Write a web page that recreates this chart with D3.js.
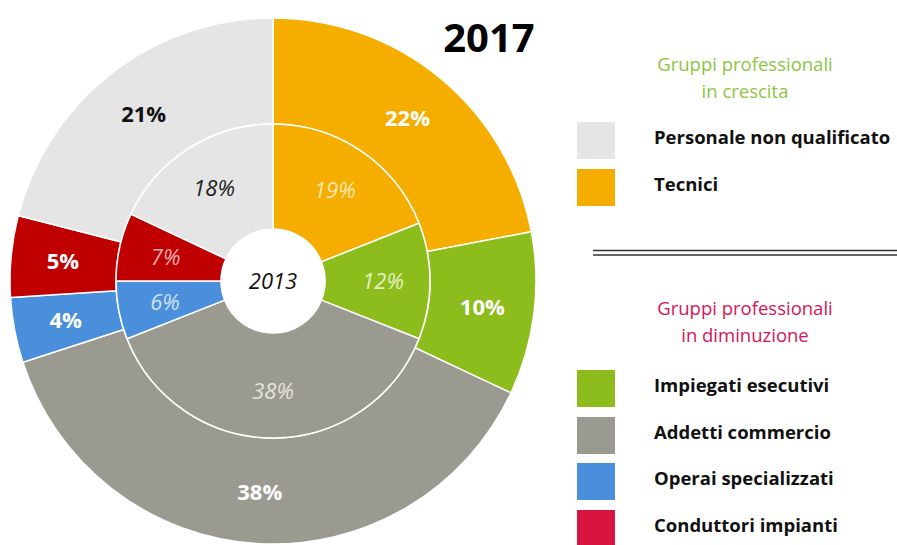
<!DOCTYPE html>
<html>
<head>
<meta charset="utf-8">
<script src="https://cdn.jsdelivr.net/npm/d3@7"></script>
<style>
  body { margin: 0; background: #fff; }
  svg { display: block; font-family: "Open Sans", Lato, sans-serif; }
</style>
</head>
<body>
<svg id="chart" width="897" height="545"></svg>
<script>
// categories in pie order (clockwise from 12 o'clock)
const categories = ["Tecnici", "Impiegati esecutivi", "Addetti commercio", "Operai specializzati", "Conduttori impianti", "Personale non qualificato"];
const values2017 = [22, 10, 38, 4, 5, 21];
const values2013 = [19, 12, 38, 6, 7, 18];
const sliceColors = ["#f5ad00", "#8dbd1c", "#9b9a91", "#4a8fdb", "#c00000", "#e5e5e5"];
const outerLabelColors = ["#fff", "#fff", "#fff", "#fff", "#fff", "#111"];
const innerLabelColors = ["#fde6b0", "#e3f0c2", "#e4e3de", "#cfe2f7", "#f0b0b0", "#222"];

const growingGroups = ["Personale non qualificato", "Tecnici"];
const shrinkingGroups = ["Impiegati esecutivi", "Addetti commercio", "Operai specializzati", "Conduttori impianti"];
const legendColors = {
  "Personale non qualificato": "#e5e5e5",
  "Tecnici": "#f5ad00",
  "Impiegati esecutivi": "#8dbd1c",
  "Addetti commercio": "#9b9a91",
  "Operai specializzati": "#4a8fdb",
  "Conduttori impianti": "#d81440"
};

const svg = d3.select("#chart");
const cx = 273, cy = 281;
const rOuter = 263, rMid = 157, rHole = 52;

const pie = d3.pie().sort(null).value(d => d.v);
const mk = vals => pie(vals.map((v, i) => ({ v, i })));

const outerArc = d3.arc().innerRadius(rMid).outerRadius(rOuter);
const innerArc = d3.arc().innerRadius(rHole).outerRadius(rMid);
const outerLbl = d3.arc().innerRadius(211).outerRadius(211);
const innerLbl = d3.arc().innerRadius(110).outerRadius(110);

const g = svg.append("g").attr("transform", `translate(${cx},${cy})`);

// outer ring (2017)
g.append("g").selectAll("path")
  .data(mk(values2017))
  .join("path")
  .attr("d", outerArc)
  .attr("fill", d => sliceColors[d.data.i])
  .attr("stroke", "#fff")
  .attr("stroke-width", 1.5);

// inner ring (2013)
g.append("g").selectAll("path")
  .data(mk(values2013))
  .join("path")
  .attr("d", innerArc)
  .attr("fill", d => sliceColors[d.data.i])
  .attr("stroke", "#fff")
  .attr("stroke-width", 1.5);

g.append("g").selectAll("text")
  .data(mk(values2017))
  .join("text")
  .attr("transform", d => `translate(${outerLbl.centroid(d)})`)
  .attr("text-anchor", "middle")
  .attr("dy", "0.36em")
  .attr("font-size", 22)
  .attr("font-weight", "bold")
  .attr("fill", d => outerLabelColors[d.data.i])
  .text(d => d.data.v + "%");

g.append("g").selectAll("text")
  .data(mk(values2013))
  .join("text")
  .attr("transform", d => `translate(${innerLbl.centroid(d)})`)
  .attr("text-anchor", "middle")
  .attr("dy", "0.36em")
  .attr("font-size", 22)
  .attr("font-style", "italic")
  .attr("fill", d => innerLabelColors[d.data.i])
  .text(d => d.data.v + "%");

g.append("text")
  .attr("text-anchor", "middle")
  .attr("dy", "0.36em")
  .attr("font-size", 22)
  .attr("font-style", "italic")
  .attr("fill", "#111")
  .text("2013");

svg.append("text")
  .attr("x", 489).attr("y", 52)
  .attr("text-anchor", "middle")
  .attr("font-size", 40)
  .attr("font-weight", "bold")
  .attr("fill", "#000")
  .text("2017");

// legend
function title(lines, y0, color) {
  svg.append("text")
    .attr("text-anchor", "middle")
    .attr("font-size", 18.5)
    .attr("fill", color)
    .selectAll("tspan")
    .data(lines)
    .join("tspan")
    .attr("x", 745)
    .attr("y", (d, i) => y0 + i * 27)
    .text(d => d);
}
function items(list, ys) {
  const gg = svg.append("g");
  gg.selectAll("rect")
    .data(list)
    .join("rect")
    .attr("x", 577).attr("y", (d, i) => ys[i] - 22)
    .attr("width", 38).attr("height", 37)
    .attr("fill", d => legendColors[d]);
  gg.selectAll("text")
    .data(list)
    .join("text")
    .attr("x", 654).attr("y", (d, i) => ys[i])
    .attr("font-size", 18.5)
    .attr("font-weight", "bold")
    .attr("fill", "#111")
    .text(d => d);
}

title(["Gruppi professionali", "in crescita"], 71, "#8dc63f");
items(growingGroups, [144, 191]);

svg.append("line").attr("x1", 593).attr("x2", 897).attr("y1", 250.5).attr("y2", 250.5)
  .attr("stroke", "#333").attr("stroke-width", 1.5);
svg.append("line").attr("x1", 593).attr("x2", 897).attr("y1", 255).attr("y2", 255)
  .attr("stroke", "#333").attr("stroke-width", 1.5);

title(["Gruppi professionali", "in diminuzione"], 315, "#d4145a");
items(shrinkingGroups, [392, 439, 485, 532]);
</script>
</body>
</html>
